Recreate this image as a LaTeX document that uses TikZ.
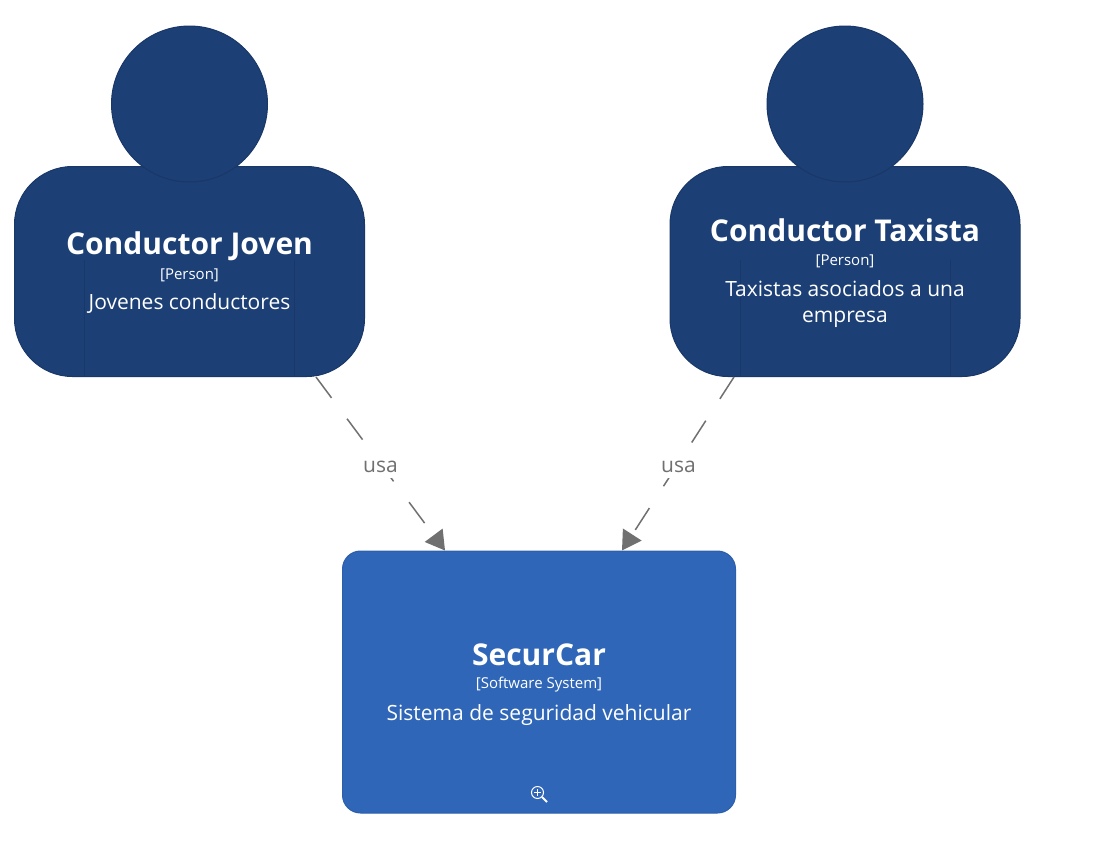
\documentclass[tikz,border=0pt]{standalone}
\usepackage{fontspec}
\setmainfont{Open Sans}
\usetikzlibrary{arrows.meta,calc}
\definecolor{persona}{HTML}{1C3F75}
\definecolor{personb}{HTML}{193767}
\definecolor{sysa}{HTML}{2F66B7}
\definecolor{sysb}{HTML}{2C5FAA}
\definecolor{rel}{HTML}{707070}
\tikzset{
  x=1pt,y=-1pt,
  body/.style={draw=personb,fill=persona,line width=1pt,rounded corners=58pt,minimum width=350pt,minimum height=210pt,inner sep=0pt},
  head/.style={circle,draw=personb,fill=persona,line width=1pt,minimum size=156pt,inner sep=0pt},
  arm/.style={draw=personb,line width=1pt},
  softsys/.style={draw=sysb,fill=sysa,line width=1pt,rounded corners=18pt,minimum width=393pt,minimum height=262pt,inner sep=0pt},
  ttl/.style={text=white,font=\fontsize{30}{36}\selectfont\bfseries,inner sep=0pt},
  meta/.style={text=white,font=\fontsize{15}{18}\selectfont,inner sep=0pt},
  desc/.style={text=white,font=\fontsize{21}{26}\selectfont,inner sep=0pt,align=center},
  relline/.style={draw=rel,line width=1.5pt,dash pattern=on 26pt off 26pt,-{Triangle[length=19pt,width=22pt]}},
  rellabel/.style={text=rel,fill=white,font=\fontsize{21}{25}\selectfont,inner xsep=3pt,inner ysep=5pt},
}
\begin{document}
\begin{tikzpicture}
\useasboundingbox (0,0) rectangle (1104,844);
% Left person
\node[body] (jbody) at (189.5,271.5) {};
\draw[arm] (84.5,260) -- (84.5,377);
\draw[arm] (294,260) -- (294,377);
\node[head] (jhead) at (189.5,104) {};
\node[ttl] (jtitle) at (189.5,246) {Conductor Joven};
\node[meta] (jmeta) at (189.5,275) {[Person]};
\node[desc] (jdesc) at (189.5,303.5) {Jovenes conductores};
% Right person
\node[body] (tbody) at (845,271.5) {};
\draw[arm] (740,260) -- (740,377);
\draw[arm] (950,260) -- (950,377);
\node[head] (thead) at (845,104) {};
\node[ttl] (ttitle) at (845,230) {Conductor Taxista};
\node[meta] (tmeta) at (845,261.5) {[Person]};
\node[desc] (tdesc) at (845,304) {Taxistas asociados a una\\empresa};
% System
\node[softsys] (sys) at (539,682) {};
\node[ttl] (stitle) at (539,655) {SecurCar};
\node[meta] (smeta) at (539,684.5) {[Software System]};
\node[desc] (sdesc) at (539,715) {Sistema de seguridad vehicular};
% Zoom icon
\node[circle,draw=white,line width=1pt,minimum size=12pt,inner sep=0pt] (lens) at (537.5,792.5) {};
\draw[white,line width=1pt] ($(lens.center)+(-3.5,0)$) -- ($(lens.center)+(3.5,0)$);
\draw[white,line width=1pt] ($(lens.center)+(0,-3.5)$) -- ($(lens.center)+(0,3.5)$);
\draw[white,line width=1.8pt] (lens.south east) -- ++(5,5);
% Connectors
\coordinate (j1) at ($(jbody.south)+(126.5,0)$);
\coordinate (j2) at ($(sys.north)+(-94,0)$);
\coordinate (t1) at ($(tbody.south)+(-111,0)$);
\coordinate (t2) at ($(sys.north)+(83,0)$);
\draw[relline] (j1) -- (j2);
\draw[relline] (t1) -- (t2);
\node[rellabel] (l1) at (380.5,467) {usa};
\node[rellabel] (l2) at (678.5,467) {usa};
\end{tikzpicture}
\end{document}
